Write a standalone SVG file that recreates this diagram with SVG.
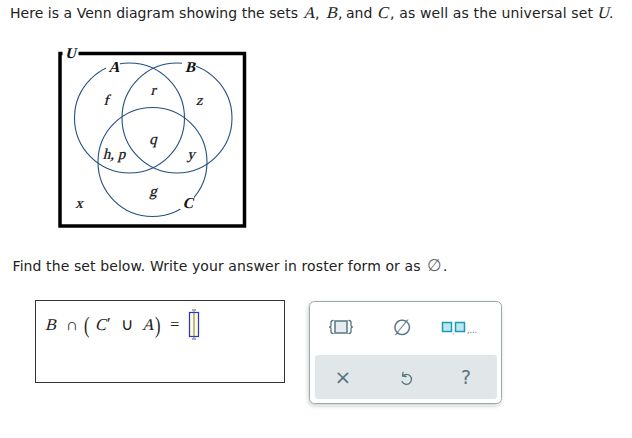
<svg xmlns="http://www.w3.org/2000/svg" width="632" height="438" viewBox="0 0 632 438">
<defs>
<style>
.ui{font-family:"DejaVu Sans",Verdana,sans-serif;font-size:14px;fill:#222}
.m{font-family:"Liberation Serif","Times New Roman",serif;font-size:16.5px;fill:#222}
.vl{font-family:"Liberation Serif","Times New Roman",serif;font-size:15px;fill:#111;stroke:#111;stroke-width:0.25;text-anchor:middle}
.sl{font-family:"Liberation Serif","Times New Roman",serif;font-weight:bold;font-size:15px;fill:#111;text-anchor:middle}
.ex{font-family:"Liberation Serif","Times New Roman",serif;font-size:16.5px;fill:#222}
.circ{fill:none;stroke:#24507e;stroke-width:1.1}
.ic{fill:#56747f;font-family:"DejaVu Sans",sans-serif;text-anchor:middle}
.ico{fill:none;stroke:#56747f;stroke-width:1.3;stroke-linecap:round;stroke-linejoin:round}
</style>
<filter id="sh" x="-10%" y="-10%" width="120%" height="130%">
<feDropShadow dx="-1" dy="2" stdDeviation="2" flood-color="#000" flood-opacity="0.18"/>
</filter>
</defs>
<rect width="632" height="438" fill="#fff"/>

<g id="title">
<text class="ui" x="10" y="17.5" textLength="288">Here is a Venn diagram showing the sets</text>
<text class="m" transform="translate(303,17.5) skewX(-14)">A</text>
<text class="ui" x="315" y="17.5">,</text>
<text class="m" transform="translate(326,17.5) skewX(-14)">B</text>
<text class="ui" x="338" y="17.5">,</text>
<text class="ui" x="346" y="17.5">and</text>
<text class="m" transform="translate(377,17.5) skewX(-14)">C</text>
<text class="ui" x="390" y="17.5" textLength="203">, as well as the universal set</text>
<text class="m" transform="translate(597,17.5) skewX(-14)">U</text>
<text class="ui" x="609" y="17.5">.</text>
</g>

<g id="universe">
<rect x="60" y="53.5" width="184.5" height="172.5" fill="none" stroke="#000" stroke-width="3.5"/>
<rect x="62.5" y="46" width="16" height="12" fill="#fff"/>
<text class="sl" transform="translate(70.5,58) skewX(-14)">U</text>
</g>

<g id="setA">
<circle class="circ" cx="129.5" cy="118" r="55"/>
</g>
<g id="setB">
<circle class="circ" cx="177" cy="118" r="55"/>
</g>
<g id="setC">
<circle class="circ" cx="152.5" cy="162" r="54.5"/>
</g>
<g id="labels">
<rect x="106" y="60" width="14" height="13" fill="#fff"/>
<text class="sl" transform="translate(114,72) skewX(-14)">A</text>
<rect x="182" y="60" width="14" height="13" fill="#fff"/>
<text class="sl" transform="translate(190,72) skewX(-14)">B</text>
<rect x="180" y="196" width="14" height="13" fill="#fff"/>
<text class="sl" transform="translate(188,208) skewX(-14)">C</text>
</g>
<g id="elements">
<text class="vl" transform="translate(106,105) skewX(-14)">f</text>
<text class="vl" transform="translate(153,95) skewX(-14)">r</text>
<text class="vl" transform="translate(199,105) skewX(-14)">z</text>
<text class="vl" transform="translate(153,144) skewX(-14)">q</text>
<text class="vl" transform="translate(114,159) skewX(-14)">h, p</text>
<text class="vl" transform="translate(191,159) skewX(-14)">y</text>
<text class="vl" transform="translate(153,196) skewX(-14)">g</text>
<text class="vl" transform="translate(79,208) skewX(-14)">x</text>
</g>

<g id="prompt">
<text class="ui" x="12.5" y="271" textLength="408">Find the set below. Write your answer in roster form or as</text>
<text x="434.5" y="271" font-family="'DejaVu Sans',sans-serif" font-size="17" fill="#666" text-anchor="middle">∅</text>
<text class="ui" x="443" y="271">.</text>
</g>

<g id="answer">
<rect x="35.5" y="300.5" width="249" height="82" fill="#fff" stroke="#333" stroke-width="1"/>
<text class="ex" transform="translate(45,330) skewX(-14)">B</text>
<text class="ex" x="66" y="330">∩</text>
<text class="ex" transform="translate(84,333) scale(1,1.45)" fill="#444">(</text>
<text class="ex" transform="translate(95,330) skewX(-14)">C</text>
<text class="ex" x="107" y="329">′</text>
<text class="ex" x="121" y="330">∪</text>
<text class="ex" transform="translate(142,330) skewX(-14)">A</text>
<text class="ex" transform="translate(155,333) scale(1,1.45)" fill="#444">)</text>
<text class="ex" x="170" y="330">=</text>
<rect x="189.5" y="312.5" width="9" height="24" fill="#fffbd6" stroke="#2233dd" stroke-width="1.2"/>
<line x1="194" y1="311" x2="194" y2="338" stroke="#555" stroke-width="0.8"/>
<line x1="192" y1="310" x2="196" y2="310" stroke="#333" stroke-width="0.8"/>
<line x1="192" y1="339" x2="196" y2="339" stroke="#333" stroke-width="0.8"/>
</g>

<g id="keypad">
<rect x="309.5" y="301.5" width="192" height="102" rx="5" fill="#fff" stroke="#98a9ae" stroke-width="1" filter="url(#sh)"/>
<rect x="315" y="355" width="182" height="44" rx="3" fill="#e1e7e9"/>
<path class="ico" d="M333 320.5 q-2 0 -2 2 v3 q0 1.5 -1.5 1.5 q1.5 0 1.5 1.5 v3 q0 2 2 2"/>
<path class="ico" d="M349 320.5 q2 0 2 2 v3 q0 1.5 1.5 1.5 q-1.5 0 -1.5 1.5 v3 q0 2 -2 2"/>
<rect x="335" y="321" width="12" height="12" fill="#e4ecef" stroke="#5f7f89" stroke-width="1.6"/>
<text class="ic" x="402" y="335" font-size="22">∅</text>
<rect x="442.5" y="322.5" width="9" height="9" fill="#bfe6ef" stroke="#1a9cb3" stroke-width="1.5"/>
<rect x="455.5" y="322.5" width="9" height="9" fill="#bfe6ef" stroke="#1a9cb3" stroke-width="1.5"/>
<text class="ic" x="453.3" y="334" font-size="7">,</text>
<text class="ic" x="472" y="333" font-size="8">,...</text>
<text class="ic" x="343" y="384" font-size="20">×</text>
<path class="ico" d="M403 372.5 L402.5 376 L406 376.5 M402.7 376 A5 5 0 1 1 402 381.5"/>
<text class="ic" x="466" y="384" font-size="19">?</text>
</g>
</svg>
